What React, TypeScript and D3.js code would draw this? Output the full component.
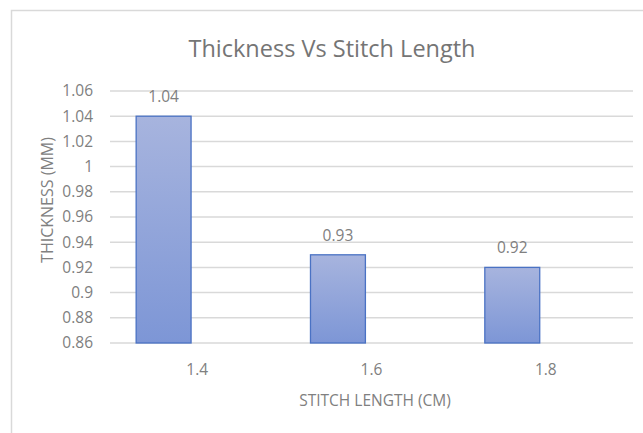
import * as d3 from "d3";
import { useEffect, useRef } from "react";

// values
const categories = ["1.4", "1.6", "1.8"];
const thickness = [1.04, 0.93, 0.92];
const yTicks = [0.86, 0.88, 0.9, 0.92, 0.94, 0.96, 0.98, 1, 1.02, 1.04, 1.06];

const title = "Thickness Vs Stitch Length";
const xTitle = "STITCH LENGTH (CM)";
const yTitle = "THICKNESS (MM)";

export default function App() {
    const svgRef = useRef<SVGSVGElement | null>(null);

    useEffect(() => {
        if (!svgRef.current) return;
        const svg = d3.select(svgRef.current);
        svg.selectAll("*").remove();

        const totalW = 643;
        const totalH = 433;
        const font = "'Open Sans', sans-serif";
        const textColor = "#808080";

        const left = 110;
        const right = 633;
        const top = 91;
        const bottom = 343;

        // chart frame (only top and left edge visible in the crop)
        svg.append("rect")
            .attr("width", totalW)
            .attr("height", totalH)
            .attr("fill", "#ffffff");
        svg.append("rect")
            .attr("x", 11.5)
            .attr("y", 10.5)
            .attr("width", 660)
            .attr("height", 460)
            .attr("fill", "none")
            .attr("stroke", "#d9d9d9")
            .attr("stroke-width", 1.5);

        const x = d3.scaleBand<string>().domain(categories).range([left, right]).padding(0);
        const y = d3.scaleLinear().domain([0.86, 1.06]).range([bottom, top]);

        const defs = svg.append("defs");
        const grad = defs.append("linearGradient")
            .attr("id", "barGrad")
            .attr("x1", 0).attr("y1", 0)
            .attr("x2", 0).attr("y2", 1);
        grad.append("stop").attr("offset", "0%").attr("stop-color", "#a7b4de");
        grad.append("stop").attr("offset", "100%").attr("stop-color", "#7d96d6");

        // gridlines
        svg.append("g")
            .selectAll("line")
            .data(yTicks)
            .join("line")
            .attr("x1", left)
            .attr("x2", right)
            .attr("y1", (d) => y(d))
            .attr("y2", (d) => y(d))
            .attr("stroke", "#d9d9d9")
            .attr("stroke-width", 1.5);

        // y tick labels
        svg.append("g")
            .selectAll("text")
            .data(yTicks)
            .join("text")
            .attr("x", 93)
            .attr("y", (d) => y(d))
            .attr("dy", "0.35em")
            .attr("text-anchor", "end")
            .attr("font-family", font)
            .attr("font-size", 15.5)
            .attr("fill", textColor)
            .text((d) => d3.format("")(d));

        const bw = x.bandwidth();
        const barX = (c: string) => x(c)! + bw * 0.15;
        const barW = bw * 0.315;

        // bars
        svg.append("g")
            .selectAll("rect")
            .data(thickness)
            .join("rect")
            .attr("x", (d, i) => barX(categories[i]))
            .attr("y", (d) => y(d))
            .attr("width", barW)
            .attr("height", (d) => y(0.86) - y(d))
            .attr("fill", "url(#barGrad)")
            .attr("stroke", "#4a72c4")
            .attr("stroke-width", 1.3);

        // data labels
        svg.append("g")
            .selectAll("text")
            .data(thickness)
            .join("text")
            .attr("x", (d, i) => barX(categories[i]) + barW / 2)
            .attr("y", (d) => y(d) - 14)
            .attr("text-anchor", "middle")
            .attr("font-family", font)
            .attr("font-size", 15.5)
            .attr("fill", textColor)
            .text((d) => String(d));

        // x tick labels
        svg.append("g")
            .selectAll("text")
            .data(categories)
            .join("text")
            .attr("x", (d) => x(d)! + bw / 2)
            .attr("y", 375)
            .attr("text-anchor", "middle")
            .attr("font-family", font)
            .attr("font-size", 15.5)
            .attr("fill", textColor)
            .text((d) => d);

        // axis titles
        svg.append("text")
            .attr("x", 375)
            .attr("y", 406)
            .attr("text-anchor", "middle")
            .attr("font-family", font)
            .attr("font-size", 15.5)
            .attr("fill", textColor)
            .text(xTitle);

        svg.append("text")
            .attr("transform", `translate(53,200) rotate(-90)`)
            .attr("text-anchor", "middle")
            .attr("font-family", font)
            .attr("font-size", 16)
            .attr("fill", textColor)
            .text(yTitle);

        // chart title
        svg.append("text")
            .attr("x", 332)
            .attr("y", 57)
            .attr("text-anchor", "middle")
            .attr("font-family", font)
            .attr("font-size", 23.5)
            .attr("fill", "#757575")
            .text(title);
    }, []);

    return (
        <svg
            ref={svgRef}
            width={643}
            height={433}
            style={{ position: "absolute", left: 0, top: 0 }}
        />
    );
}
